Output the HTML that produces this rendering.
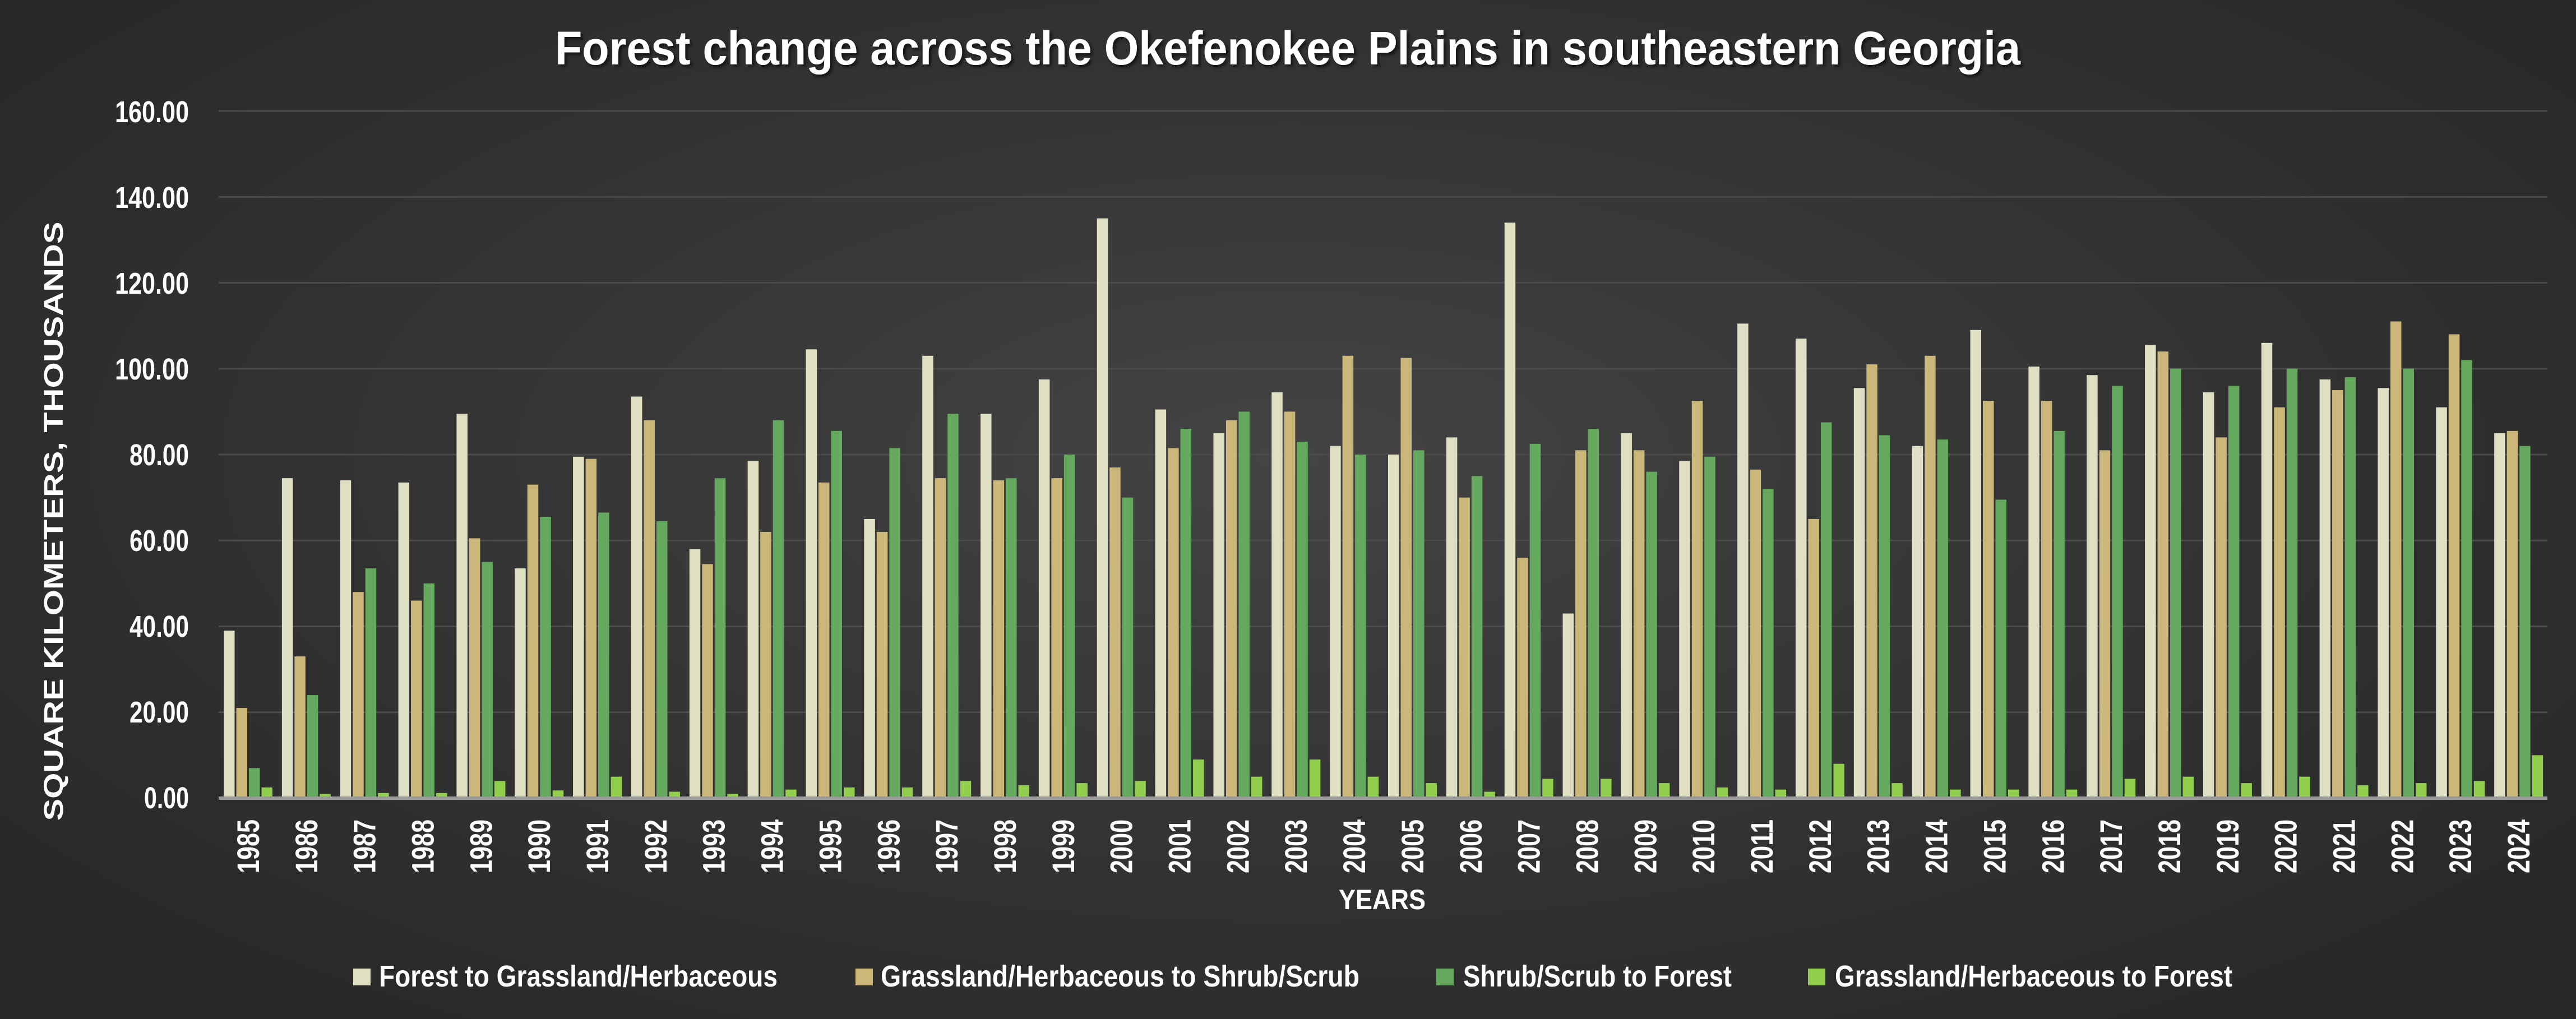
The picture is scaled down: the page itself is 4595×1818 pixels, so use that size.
<!DOCTYPE html>
<html><head><meta charset="utf-8"><style>
html,body{margin:0;padding:0;}
body{width:4595px;height:1818px;overflow:hidden;background:radial-gradient(ellipse at 50% 45%,#444 0%,#363636 40%,#292929 85%);}
svg{position:absolute;left:0;top:0;}
.n{font-family:"Liberation Sans Narrow","Liberation Sans",sans-serif;font-weight:bold;fill:#fff;}
</style></head><body>
<svg id="s" width="4595" height="1818" xmlns="http://www.w3.org/2000/svg">
<defs><filter id="sh"><feDropShadow dx="4" dy="4" stdDeviation="3" flood-color="#000" flood-opacity="0.6"/></filter></defs>
<text class="n" x="990" y="115" font-size="84" textLength="2614" lengthAdjust="spacingAndGlyphs" filter="url(#sh)">Forest change across the Okefenokee Plains in southeastern Georgia</text>
<g id="grid" stroke="#4a4a4a" stroke-width="3"></g>
<g class="n" font-size="54" text-anchor="end" font-weight="normal">
<text x="337" y="218" textLength="132" lengthAdjust="spacingAndGlyphs">160.00</text><text x="337" y="371" textLength="132" lengthAdjust="spacingAndGlyphs">140.00</text><text x="337" y="524" textLength="132" lengthAdjust="spacingAndGlyphs">120.00</text><text x="337" y="677" textLength="132" lengthAdjust="spacingAndGlyphs">100.00</text><text x="337" y="830" textLength="106" lengthAdjust="spacingAndGlyphs">80.00</text><text x="337" y="983" textLength="106" lengthAdjust="spacingAndGlyphs">60.00</text><text x="337" y="1136" textLength="106" lengthAdjust="spacingAndGlyphs">40.00</text><text x="337" y="1289" textLength="106" lengthAdjust="spacingAndGlyphs">20.00</text><text x="337" y="1442" textLength="80" lengthAdjust="spacingAndGlyphs">0.00</text>
</g>
<text x="0" y="0" transform="translate(112,930) rotate(-90)" text-anchor="middle" font-family="Liberation Sans,sans-serif" font-weight="bold" font-size="48" textLength="1069" lengthAdjust="spacingAndGlyphs" fill="#fff">SQUARE KILOMETERS, THOUSANDS</text>
<g id="bars"></g>
<line x1="390" y1="1424" x2="4544" y2="1424" stroke="#9a9a9a" stroke-width="6"/>
<g id="years" class="n" font-size="56" text-anchor="end">
<text>1985</text><text>1986</text><text>1987</text><text>1988</text><text>1989</text><text>1990</text><text>1991</text><text>1992</text><text>1993</text><text>1994</text><text>1995</text><text>1996</text><text>1997</text><text>1998</text><text>1999</text><text>2000</text><text>2001</text><text>2002</text><text>2003</text><text>2004</text><text>2005</text><text>2006</text><text>2007</text><text>2008</text><text>2009</text><text>2010</text><text>2011</text><text>2012</text><text>2013</text><text>2014</text><text>2015</text><text>2016</text><text>2017</text><text>2018</text><text>2019</text><text>2020</text><text>2021</text><text>2022</text><text>2023</text><text>2024</text>
</g>
<text class="n" x="2388" y="1622" font-size="50" textLength="155" lengthAdjust="spacingAndGlyphs" font-family="Liberation Sans,sans-serif">YEARS</text>
<g class="n" font-size="54">
<rect x="630" y="1728" width="31" height="30" fill="#dfdfc3"/><text x="676" y="1760" textLength="711" lengthAdjust="spacingAndGlyphs">Forest to Grassland/Herbaceous</text>
<rect x="1526" y="1728" width="31" height="30" fill="#cbb77a"/><text x="1571" y="1760" textLength="854" lengthAdjust="spacingAndGlyphs">Grassland/Herbaceous to Shrub/Scrub</text>
<rect x="2562" y="1728" width="31" height="30" fill="#64a95e"/><text x="2610" y="1760" textLength="479" lengthAdjust="spacingAndGlyphs">Shrub/Scrub to Forest</text>
<rect x="3225" y="1728" width="31" height="30" fill="#92cf4e"/><text x="3273" y="1760" textLength="709" lengthAdjust="spacingAndGlyphs">Grassland/Herbaceous to Forest</text>
</g>
</svg>
<script>
var d=[[39,21,7,2.5],[74.5,33,24,1],[74,48,53.5,1.2],[73.5,46,50,1.2],[89.5,60.5,55,4],[53.5,73,65.5,1.8],[79.5,79,66.5,5],[93.5,88,64.5,1.5],[58,54.5,74.5,1],[78.5,62,88,2],[104.5,73.5,85.5,2.5],[65,62,81.5,2.5],[103,74.5,89.5,4],[89.5,74,74.5,3],[97.5,74.5,80,3.5],[135,77,70,4],[90.5,81.5,86,9],[85,88,90,5],[94.5,90,83,9],[82,103,80,5],[80,102.5,81,3.5],[84,70,75,1.5],[134,56,82.5,4.5],[43,81,86,4.5],[85,81,76,3.5],[78.5,92.5,79.5,2.5],[110.5,76.5,72,2],[107,65,87.5,8],[95.5,101,84.5,3.5],[82,103,83.5,2],[109,92.5,69.5,2],[100.5,92.5,85.5,2],[98.5,81,96,4.5],[105.5,104,100,5],[94.5,84,96,3.5],[106,91,100,5],[97.5,95,98,3],[95.5,111,100,3.5],[91,108,102,4],[85,85.5,82,10]];
var c=["#dfdfc3","#cbb77a","#64a95e","#92cf4e"],NS="http://www.w3.org/2000/svg";
var g=document.getElementById("grid");
for(var k=1;k<=8;k++){var y=1424-k*153.25;var l=document.createElementNS(NS,"line");l.setAttribute("x1",390);l.setAttribute("x2",4544);l.setAttribute("y1",y);l.setAttribute("y2",y);g.appendChild(l);}
var b=document.getElementById("bars"),cw=103.85,ys=document.querySelectorAll("#years text");
d.forEach(function(r,i){var x0=390+i*cw+9;r.forEach(function(v,j){var h=v*7.6625;var e=document.createElementNS(NS,"rect");e.setAttribute("x",x0+j*22.5);e.setAttribute("y",1424-h);e.setAttribute("width",19.5);e.setAttribute("height",h);e.setAttribute("fill",c[j]);b.appendChild(e);});
var cx=390+cw*(i+0.5)+20;ys[i].setAttribute("transform","translate("+cx+",1462) rotate(-90)");ys[i].setAttribute("textLength","96");ys[i].setAttribute("lengthAdjust","spacingAndGlyphs");});
</script>
</body></html>
